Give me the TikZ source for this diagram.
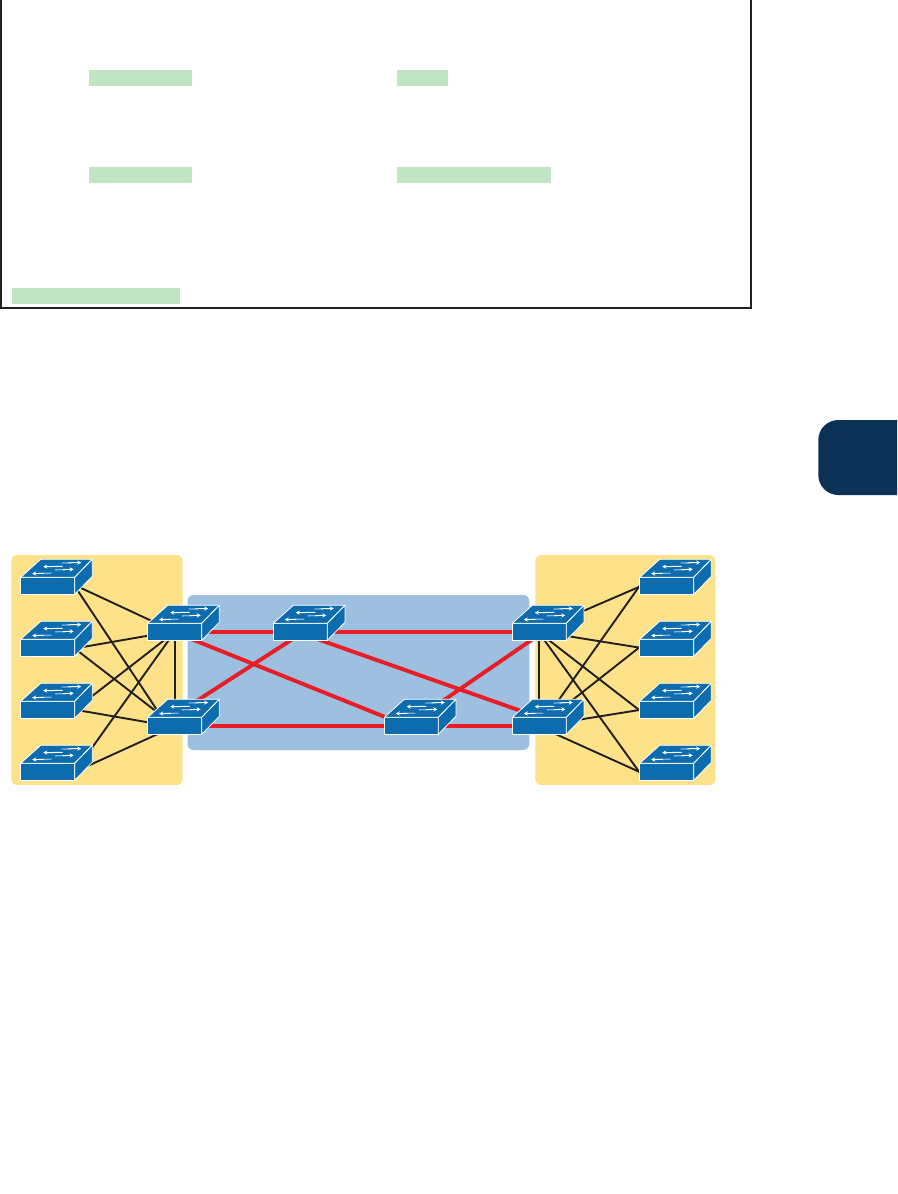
\documentclass[tikz,border=0pt]{standalone}
\usetikzlibrary{arrows.meta,backgrounds}
\definecolor{swblue}{HTML}{0C6CAD}
\definecolor{swlite}{HTML}{7FB2D9}
\definecolor{yellowzone}{HTML}{FDE28A}
\definecolor{bluezone}{HTML}{9DC0E0}
\definecolor{hilite}{HTML}{C1E5C2}
\definecolor{tabnavy}{HTML}{0B3157}
\definecolor{redlink}{HTML}{E81D25}
\definecolor{blacklink}{HTML}{231F20}
\tikzset{
  front/.style={draw=white,fill=swblue,line width=.8pt,inner sep=0pt,outer sep=0pt,minimum width=54pt,minimum height=17pt,anchor=north west},
  face/.style={draw=white,fill=swblue,line width=.8pt,line join=round},
  arw/.style={white,line width=1pt,-{Stealth[length=4pt,width=4.2pt]}},
  arwtail/.style={swlite,line width=1.3pt},
  zone/.style={rounded corners=6pt},
  mark box/.style={fill=hilite},
  blk/.style={blacklink,line width=1.9pt},
  rd/.style={redlink,line width=3.9pt}
}
% name, x of front left, y of front top
\newcommand{\swicon}[3]{%
  \node[front] (#1) at (#2,#3) {};
  \draw[face] (#1.north west) -- ++(20,-18) -- ++(51.6,0) -- (#1.north east) -- cycle;
  \draw[face] (#1.north east) -- ++(17.6,-18) -- ++(0,17) -- (#1.south east) -- cycle;
  \draw[arwtail] ([shift={(41,-14.3)}]#1.north west) -- ([shift={(50,-14.5)}]#1.north west);
  \draw[arw] ([shift={(48,-14.5)}]#1.north west) -- ([shift={(60.5,-14.8)}]#1.north west);
  \draw[arw] ([shift={(42,-11)}]#1.north west) -- ([shift={(22.5,-10.6)}]#1.north west);
  \draw[arwtail] ([shift={(34.3,-7.4)}]#1.north west) -- ([shift={(44,-7.7)}]#1.north west);
  \draw[arw] ([shift={(42,-7.7)}]#1.north west) -- ([shift={(53,-8)}]#1.north west);
  \draw[arwtail] ([shift={(31,-4)}]#1.north west) -- ([shift={(21,-3.9)}]#1.north west);
  \draw[arw] ([shift={(23,-3.9)}]#1.north west) -- ([shift={(11.5,-3.7)}]#1.north west);
}
% style, node a, offset a, node b, offset b
\newcommand{\lnk}[5]{\draw[#1] ([shift={(#3)}]#2.center) -- ([shift={(#5)}]#4.center);}
\begin{document}
\begin{tikzpicture}[x=1pt,y=-1pt]
\useasboundingbox (0,0) rectangle (897,1194);
% top table
\fill[mark box] (89,70) rectangle (192,86);
\fill[mark box] (397,70) rectangle (448,86);
\fill[mark box] (89,167) rectangle (192,183);
\fill[mark box] (397,167) rectangle (551,183);
\fill[mark box] (12,288) rectangle (180,304);
\draw[blacklink,line width=2pt] (1,0) -- (1,308) -- (751,308) -- (751,0);
% chapter tab
\begin{scope}
  \clip (800,400) rectangle (897,510);
  \fill[tabnavy,rounded corners=20pt] (818.3,420) rectangle (940,495);
\end{scope}
% zones
\begin{scope}[on background layer]
  \fill[yellowzone,zone] (11.3,555) rectangle (182.7,785);
  \fill[yellowzone,zone] (535.3,555) rectangle (715.3,785);
  \fill[bluezone,zone] (187.5,595) rectangle (529.3,750);
\end{scope}
% switches
\swicon{s1}{20.7}{577.3}
\swicon{s2}{20.7}{639.3}
\swicon{s3}{20.7}{701.3}
\swicon{s4}{20.7}{763.3}
\swicon{d1}{147.7}{623.3}
\swicon{d2}{147.7}{717.3}
\swicon{m1}{273.3}{623.3}
\swicon{m2}{384.3}{717.3}
\swicon{d3}{512.3}{623.3}
\swicon{d4}{512.3}{717.3}
\swicon{r1}{639.7}{577.3}
\swicon{r2}{639.7}{639.3}
\swicon{r3}{639.7}{701.3}
\swicon{r4}{639.7}{763.3}
% connectors
\begin{scope}[on background layer]
  \lnk{rd}{d1}{0,0}{m1}{0,0}
  \lnk{rd}{m1}{0,0}{d3}{0,0}
  \lnk{rd}{d2}{0,0}{m2}{0,0}
  \lnk{rd}{m2}{0,0}{d4}{0,0}
  \lnk{rd}{d1}{15.3,6.7}{m2}{-21.3,-6.8}
  \lnk{rd}{d2}{20.3,-23.8}{m1}{-7.3,7}
  \lnk{rd}{m1}{15.7,6.8}{d4}{-15.3,-13.8}
  \lnk{rd}{m2}{30.7,-24.4}{d3}{-7.3,7.8}
  \lnk{blk}{s1}{30.3,0.8}{d1}{-20.7,-9.8}
  \lnk{blk}{s1}{28.3,2.2}{d2}{-15.7,-12.8}
  \lnk{blk}{s2}{32.3,-0.3}{d1}{-22.7,3.2}
  \lnk{blk}{s2}{28.3,1.7}{d2}{-16.7,-13}
  \lnk{blk}{s3}{40.3,-10.5}{d1}{-7.7,6.2}
  \lnk{blk}{s3}{30.3,0.4}{d2}{-22.7,-2.8}
  \lnk{blk}{s4}{41.3,-19.8}{d1}{-3.7,5.2}
  \lnk{blk}{s4}{37.3,-4.6}{d2}{-14.7,7.2}
  \lnk{blk}{d1}{0,0}{d2}{0,0}
  \lnk{blk}{d3}{0,0}{d4}{0,0}
  \lnk{blk}{d3}{41.7,-19.8}{r1}{-23.7,-0.6}
  \lnk{blk}{d4}{16.7,-21.9}{r1}{-24.7,-3.3}
  \lnk{blk}{d3}{27.7,4.2}{r2}{-23.7,0.4}
  \lnk{blk}{d4}{30.7,-23.8}{r2}{-24.7,-2.5}
  \lnk{blk}{d3}{7.7,6.9}{r3}{-23.7,3.2}
  \lnk{blk}{d4}{37.7,-5.8}{r3}{-23.7,-0.4}
  \lnk{blk}{d3}{3.7,6.4}{r4}{-24.7,4}
  \lnk{blk}{d4}{14.7,7.5}{r4}{-23.7,1.7}
\end{scope}
\end{tikzpicture}
\end{document}
